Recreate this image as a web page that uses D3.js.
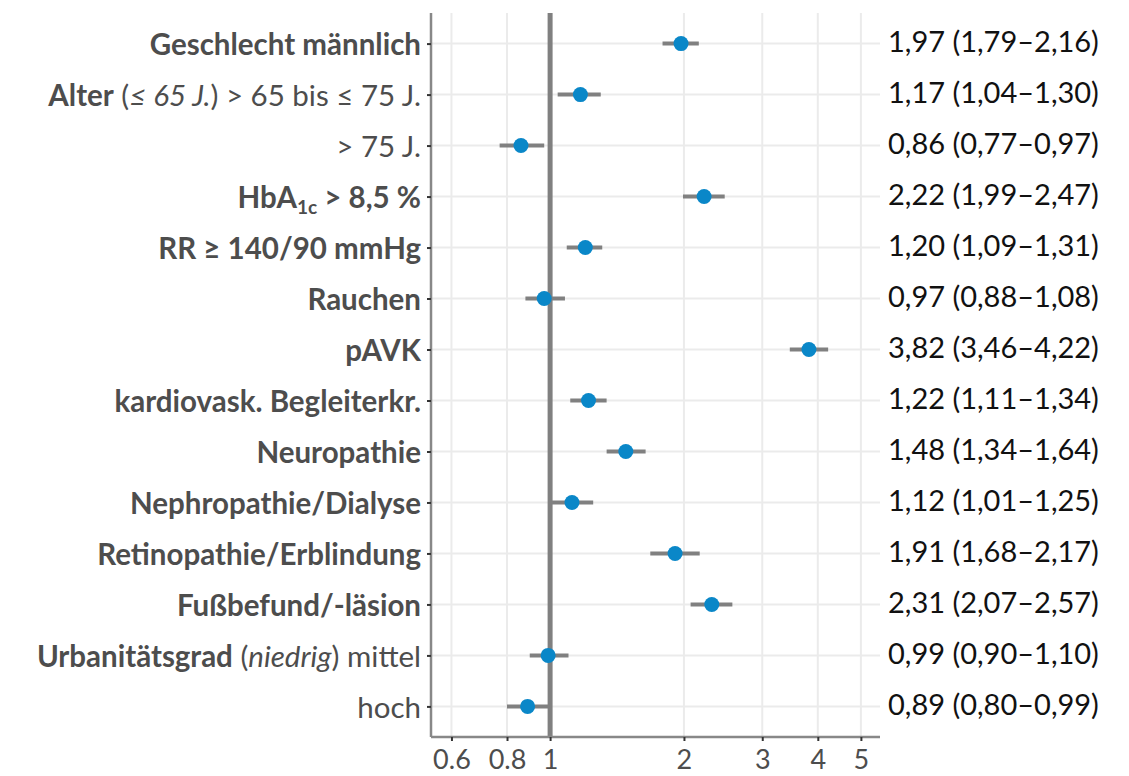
<!DOCTYPE html>
<html><head><meta charset="utf-8">
<script src="https://cdn.jsdelivr.net/npm/d3@7"></script>
<style>body{margin:0;background:#fff}svg{display:block}</style>
</head><body><svg id="c" width="1129" height="776"></svg>
<script>
// ---- data ----
const categories = ["Geschlecht männlich","Alter (≤ 65 J.) > 65 bis ≤ 75 J.","> 75 J.","HbA1c > 8,5 %","RR ≥ 140/90 mmHg","Rauchen","pAVK","kardiovask. Begleiterkr.","Neuropathie","Nephropathie/Dialyse","Retinopathie/Erblindung","Fußbefund/-läsion","Urbanitätsgrad (niedrig) mittel","hoch"];
// rich label segments: [text, style] b=bold, n=normal, i=italic, s=bold subscript
const labelParts = [
  [["Geschlecht männlich","b"]],
  [["Alter","b"],[" (","n"],["≤ 65 J.","i"],[") > 65 bis ≤ 75 J.","n"]],
  [["> 75 J.","n"]],
  [["HbA","b"],["1c","s"],[" > 8,5 %","b"]],
  [["RR ≥ 140/90 mmHg","b"]],
  [["Rauchen","b"]],
  [["pAVK","b"]],
  [["kardiovask. Begleiterkr.","b"]],
  [["Neuropathie","b"]],
  [["Nephropathie/Dialyse","b"]],
  [["Retinopathie/Erblindung","b"]],
  [["Fußbefund/-läsion","b"]],
  [["Urbanitätsgrad","b"],[" (","n"],["niedrig","i"],[") mittel","n"]],
  [["hoch","n"]]
];
const orValues = [1.97,1.17,0.86,2.22,1.20,0.97,3.82,1.22,1.48,1.12,1.91,2.31,0.99,0.89];
const ciLow    = [1.79,1.04,0.77,1.99,1.09,0.88,3.46,1.11,1.34,1.01,1.68,2.07,0.90,0.80];
const ciHigh   = [2.16,1.30,0.97,2.47,1.31,1.08,4.22,1.34,1.64,1.25,2.17,2.57,1.10,0.99];
const xTicks = [0.6,0.8,1,2,3,4,5];
const xTickLabels = ["0.6","0.8","1","2","3","4","5"];

// ---- layout ----
const svg = d3.select("#c");
const L = 431, R = 880, T = 13, B = 737;
const FONT = "Lato, 'Open Sans', sans-serif";
const x = d3.scaleLog().domain([0.5397, 5.52]).range([L, R]);
const y = d3.scalePoint().domain(d3.range(categories.length)).range([T, B]).padding(0.6);

const fmt = v => v.toFixed(2).replace(".", ",");

// grid
const g = svg.append("g");
g.selectAll(".vg").data(xTicks).join("line")
  .attr("x1", d => x(d)).attr("x2", d => x(d)).attr("y1", T).attr("y2", B)
  .attr("stroke", "#ebebeb").attr("stroke-width", 2);
g.selectAll(".hg").data(d3.range(categories.length)).join("line")
  .attr("x1", L).attr("x2", R).attr("y1", d => y(d)).attr("y2", d => y(d))
  .attr("stroke", "#ebebeb").attr("stroke-width", 2);

// reference line at 1
svg.append("line").attr("x1", x(1)).attr("x2", x(1)).attr("y1", T).attr("y2", B)
  .attr("stroke", "#808080").attr("stroke-width", 5);

// axes
const xAxis = d3.axisBottom(x).tickValues(xTicks).tickFormat((d, i) => xTickLabels[i]).tickSize(4).tickPadding(9);
const xa = svg.append("g").attr("transform", `translate(0,${B})`).call(xAxis);
xa.select(".domain").attr("stroke", "#888").attr("stroke-width", 2.5).attr("d", `M${L},0H${R}`);
xa.selectAll(".tick line").attr("stroke", "#333").attr("stroke-width", 2);
xa.selectAll(".tick text").attr("fill", "#4d4d4d").style("font-family", FONT).style("font-size", "27px");

const yAxis = d3.axisLeft(y).tickFormat("").tickSize(4);
const ya = svg.append("g").attr("transform", `translate(${L},0)`).call(yAxis);
ya.select(".domain").attr("stroke", "#888").attr("stroke-width", 2.5).attr("d", `M0,${T}V${B}`);
ya.selectAll(".tick line").attr("stroke", "#333").attr("stroke-width", 2);

// y labels (rich)
const lab = svg.append("g").style("font-family", FONT).style("font-size", "29.5px").attr("fill", "#4d4d4d");
labelParts.forEach((parts, i) => {
  const t = lab.append("text").attr("x", L - 10).attr("y", y(i)).attr("dy", "0.39em").attr("text-anchor", "end");
  parts.forEach(([txt, st]) => {
    const ts = t.append("tspan").text(txt);
    if (st === "b" || st === "s") ts.attr("font-weight", "bold");
    if (st === "i") ts.attr("font-style", "italic");
    if (st === "s") { ts.attr("font-size", "19px").attr("baseline-shift", "-6px"); }
  });
});

// error bars
svg.append("g").selectAll("line").data(d3.range(categories.length)).join("line")
  .attr("x1", i => x(ciLow[i])).attr("x2", i => x(ciHigh[i]))
  .attr("y1", i => y(i)).attr("y2", i => y(i))
  .attr("stroke", "#808080").attr("stroke-width", 4);
// points
svg.append("g").selectAll("circle").data(d3.range(categories.length)).join("circle")
  .attr("cx", i => x(orValues[i])).attr("cy", i => y(i)).attr("r", 7.5)
  .attr("fill", "#0a87c8");

// right labels
svg.append("g").style("font-family", FONT).style("font-size", "29px").attr("fill", "#111")
  .selectAll("text").data(d3.range(categories.length)).join("text")
  .attr("x", 888).attr("y", i => y(i)).attr("dy", "0.28em")
  .text(i => `${fmt(orValues[i])} (${fmt(ciLow[i])}–${fmt(ciHigh[i])})`);
</script></body></html>
